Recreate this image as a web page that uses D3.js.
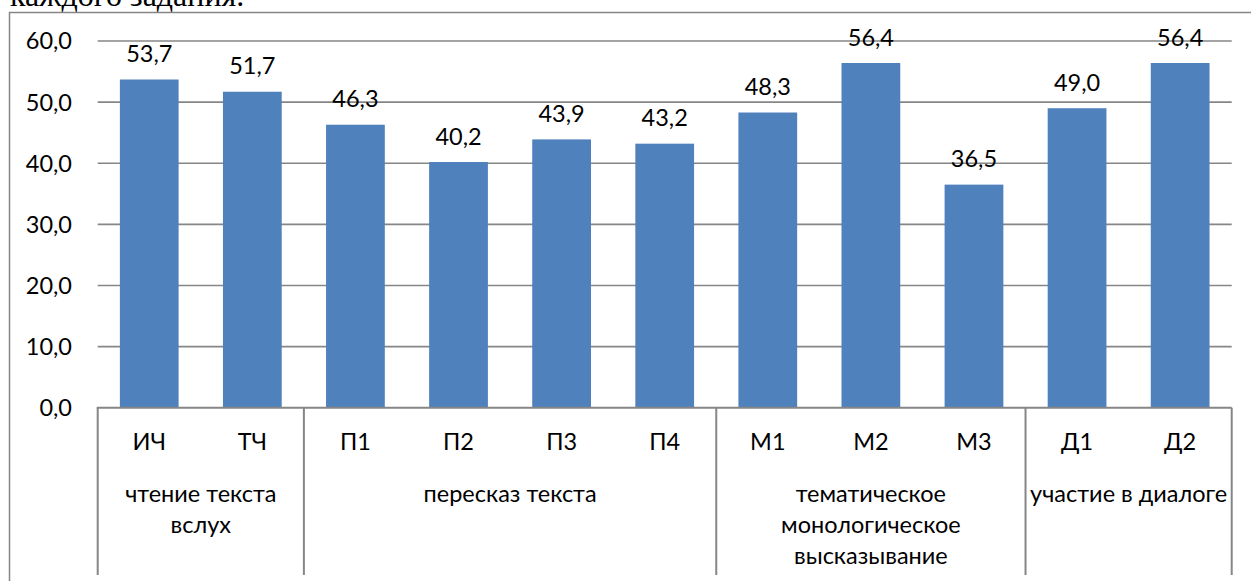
<!DOCTYPE html>
<html>
<head>
<meta charset="utf-8">
<script src="https://cdn.jsdelivr.net/npm/d3@7"></script>
<style>
  body { margin: 0; background: #fff; overflow: hidden; }
  text { font-family: Lato, "Open Sans", sans-serif; }
</style>
</head>
<body>
<div id="wrapper"></div>
<script>
width = 1251
height = 581

// данные
const categories = ["ИЧ", "ТЧ", "П1", "П2", "П3", "П4", "М1", "М2", "М3", "Д1", "Д2"]
const values = [53.7, 51.7, 46.3, 40.2, 43.9, 43.2, 48.3, 56.4, 36.5, 49.0, 56.4]
const groupNames = ["чтение текста вслух", "пересказ текста", "тематическое монологическое высказывание", "участие в диалоге"]
const groupSizes = [2, 4, 3, 2]
const yTicks = [0, 10, 20, 30, 40, 50, 60]

const fmt = v => v.toFixed(1).replace(".", ",")
const fontSize = "23.5px"

const margin = {left: 97.7, right: 1251 - 1231.7, top: 41, bottom: 581 - 407.7}

const svg = d3.select("#wrapper").append("svg")
    .attr("width", width)
    .attr("height", height)

// обрезанный текст сверху
svg.append("text")
    .attr("x", 10)
    .attr("y", 6)
    .style("font-family", "'Liberation Serif', 'Times New Roman', serif")
    .style("font-size", "32px")
    .attr("fill", "#000")
    .text("каждого задания.")

// рамка
svg.append("rect")
    .attr("x", 9.5)
    .attr("y", 12.5)
    .attr("width", 1300)
    .attr("height", 700)
    .attr("fill", "none")
    .attr("stroke", "#868686")
    .attr("stroke-width", 1.5)

x = d3.scaleBand()
    .domain(categories)
    .range([margin.left, width - margin.right])
    .paddingInner(0.43)
    .paddingOuter(0.215)

y = d3.scaleLinear()
    .domain([0, 60])
    .range([height - margin.bottom, margin.top])

const step = x.step()
const x0 = margin.left
const yBase = y(0)

// сетка
svg.append("g")
    .selectAll("line")
    .data(yTicks.filter(d => d > 0))
    .join("line")
    .attr("x1", x0)
    .attr("x2", width - margin.right)
    .attr("y1", d => y(d))
    .attr("y2", d => y(d))
    .attr("stroke", "#868686")
    .attr("stroke-width", 1.6)

// подписи оси Y
svg.append("g")
    .selectAll("text")
    .data(yTicks)
    .join("text")
    .attr("x", 72)
    .attr("y", d => y(d))
    .attr("dy", "0.36em")
    .attr("text-anchor", "end")
    .style("font-size", fontSize)
    .text(fmt)

// столбцы
svg.append("g")
    .selectAll("rect")
    .data(values)
    .join("rect")
    .attr("x", (d, i) => x(categories[i]))
    .attr("width", x.bandwidth())
    .attr("y", d => y(d))
    .attr("height", d => yBase - y(d))
    .attr("fill", "#4F81BD")

// значения над столбцами
svg.append("g")
    .selectAll("text")
    .data(values)
    .join("text")
    .attr("x", (d, i) => x(categories[i]) + x.bandwidth() / 2)
    .attr("y", d => y(d) - 17.5)
    .attr("text-anchor", "middle")
    .style("font-size", fontSize)
    .text(fmt)

// ось X
svg.append("line")
    .attr("x1", x0 - 1)
    .attr("x2", width - margin.right)
    .attr("y1", yBase)
    .attr("y2", yBase)
    .attr("stroke", "#868686")
    .attr("stroke-width", 2)

// границы групп
let bounds = [0]
groupSizes.forEach(s => bounds.push(bounds[bounds.length - 1] + s))

svg.append("g")
    .selectAll("line")
    .data(bounds)
    .join("line")
    .attr("x1", d => x0 + d * step)
    .attr("x2", d => x0 + d * step)
    .attr("y1", yBase)
    .attr("y2", 575)
    .attr("stroke", "#868686")
    .attr("stroke-width", 2)

// подписи категорий
svg.append("g")
    .selectAll("text")
    .data(categories)
    .join("text")
    .attr("x", d => x(d) + x.bandwidth() / 2)
    .attr("y", 450)
    .attr("text-anchor", "middle")
    .style("font-size", fontSize)
    .text(d => d)

// подписи групп с переносом
function wrapText(textSel, maxWidth) {
    textSel.each(function () {
        const t = d3.select(this)
        const words = t.text().split(" ")
        const cx = t.attr("x")
        t.text(null)
        let lines = []
        let line = []
        let tsp = t.append("tspan")
        words.forEach(w => {
            line.push(w)
            tsp.text(line.join(" "))
            if (tsp.node().getComputedTextLength() > maxWidth && line.length > 1) {
                line.pop()
                lines.push(line.join(" "))
                line = [w]
            }
        })
        lines.push(line.join(" "))
        t.text(null)
        lines.forEach((l, i) => {
            t.append("tspan")
                .attr("x", cx)
                .attr("dy", i === 0 ? 0 : 31.3)
                .text(l)
        })
    })
}

svg.append("g")
    .selectAll("text")
    .data(groupNames)
    .join("text")
    .attr("x", (d, i) => x0 + (bounds[i] + bounds[i + 1]) / 2 * step)
    .attr("y", 501.5)
    .attr("text-anchor", "middle")
    .style("font-size", fontSize)
    .text(d => d)
    .each(function (d, i) {
        wrapText(d3.select(this), groupSizes[i] * step - 2)
    })
</script>
</body>
</html>
